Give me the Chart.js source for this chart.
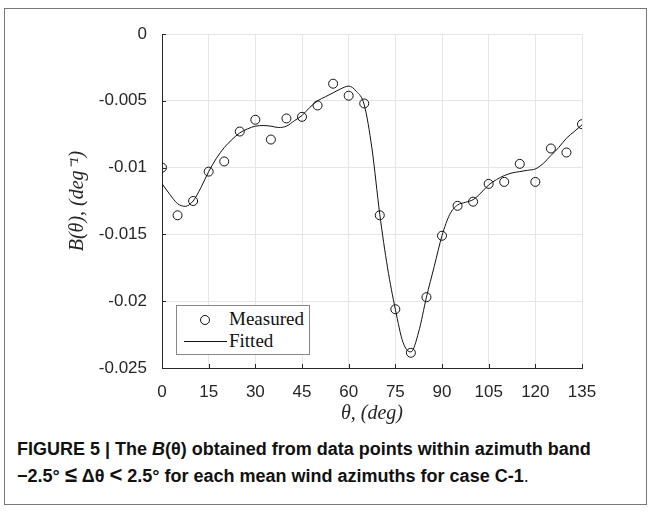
<!DOCTYPE html>
<html>
<head>
<meta charset="utf-8">
<script src="https://cdn.jsdelivr.net/npm/chart.js@4/dist/chart.umd.min.js"></script>
<style>
  html, body { margin: 0; padding: 0; background: #fff; }
  #wrap { position: relative; width: 652px; height: 512px; overflow: hidden; }
  #frame { position: absolute; left: 4px; top: 8px; width: 643px; height: 497px; border: 1px solid #777; box-sizing: border-box; }
  #chartBox { position: absolute; left: 0; top: 0; width: 652px; height: 430px; }
  #legend { position: absolute; left: 176px; top: 305px; width: 134px; height: 50px; border: 1px solid #888; background: #fff; box-sizing: border-box;
            font-family: "Liberation Serif", "DejaVu Serif", serif; font-size: 19px; color: #111; }
  #legend .row { position: absolute; left: 0; height: 22px; line-height: 22px; }
  #legend .mk { position: absolute; left: 23px; top: 7px; width: 8px; height: 8px; border: 1px solid #111; border-radius: 50%; }
  #legend .ln { position: absolute; left: 7px; top: 11px; width: 43px; border-top: 1px solid #111; }
  #legend .tx { position: absolute; left: 52px; top: 0; white-space: nowrap; }
  #caption { position: absolute; left: 17px; top: 436px; font-family: "Liberation Sans", Arial, sans-serif; font-weight: bold; font-size: 18px; line-height: 27px; color: #111; white-space: nowrap; }
  #caption .big { font-size: 22px; line-height: 18px; }
</style>
</head>
<body>
<div id="wrap">
  <div id="frame"></div>
  <div id="chartBox"><canvas id="grafico" width="652" height="430"></canvas></div>
  <div id="legend">
    <div class="row" style="top:2px;"><span class="mk"></span><span class="tx">Measured</span></div>
    <div class="row" style="top:24px;"><span class="ln"></span><span class="tx">Fitted</span></div>
  </div>
  <div id="caption">FIGURE 5 | The <i>B</i>(θ) obtained from data points within azimuth band<br>−2.5° <span class="big">≤</span> Δθ <span class="big">&lt;</span> 2.5° for each mean wind azimuths for case C-1<span style="font-weight:normal">.</span></div>
</div>
<script>
// datos medidos (cada 5 grados)
const thetaMedido = [0, 5, 10, 15, 20, 25, 30, 35, 40, 45, 50, 55, 60, 65, 70, 75, 80, 85, 90, 95, 100, 105, 110, 115, 120, 125, 130, 135];
const bMedido = [-0.0100, -0.01357, -0.0125, -0.0103, -0.00954, -0.0073, -0.00642, -0.0079, -0.00632, -0.0062, -0.00535, -0.00372, -0.00462, -0.0052,
  -0.01357, -0.0206, -0.02386, -0.0197, -0.0151, -0.01286, -0.01255, -0.01122, -0.01107, -0.00972, -0.01107, -0.00857, -0.00887, -0.00675];

// curva ajustada
const thetaAjuste = [0, 2.5, 5, 7.5, 10, 12.5, 15, 17.5, 20, 22.5, 25, 27.5, 30, 32.5, 35, 37.5, 40, 42.5, 45, 47.5, 50, 52.5, 55, 57.5, 60, 62.5, 65,
  67.5, 70, 72.5, 75, 77.5, 80, 82.5, 85, 87.5, 90, 92.5, 95, 97.5, 100, 102.5, 105, 107.5, 110, 112.5, 115, 117.5, 120, 122.5, 125, 127.5, 130, 132.5, 135];
const bAjuste = [-0.0112, -0.0120, -0.0127, -0.0129, -0.0125, -0.0115, -0.0103, -0.0093, -0.0085, -0.0079, -0.0074, -0.0071, -0.0069, -0.00685, -0.0069,
  -0.0070, -0.0069, -0.0065, -0.0061, -0.0055, -0.0050, -0.0047, -0.0044, -0.0041, -0.0039, -0.0043, -0.0053, -0.0086, -0.0135, -0.0175, -0.0206,
  -0.0231, -0.0238, -0.0223, -0.0197, -0.0174, -0.0151, -0.0135, -0.0128, -0.0126, -0.0124, -0.0119, -0.0113, -0.0109, -0.0106, -0.0104, -0.0103,
  -0.0102, -0.0101, -0.0097, -0.0091, -0.0085, -0.0078, -0.0073, -0.0068];

const xTicks = [0, 15, 30, 45, 60, 75, 90, 105, 120, 135];
const yTicks = [0, -0.005, -0.01, -0.015, -0.02, -0.025];

const medidos = thetaMedido.map((t, i) => ({ x: t, y: bMedido[i] }));
const ajuste = thetaAjuste.map((t, i) => ({ x: t, y: bAjuste[i] }));

// marcas de tick hacia dentro, estilo matlab
const ticksDentro = {
  id: 'ticksDentro',
  afterDraw(chart) {
    const { ctx, chartArea, scales } = chart;
    ctx.save();
    ctx.strokeStyle = '#262626';
    ctx.lineWidth = 1;
    ctx.beginPath();
    xTicks.forEach(v => {
      const px = Math.round(scales.x.getPixelForValue(v)) + 0.5;
      ctx.moveTo(px, chartArea.bottom);
      ctx.lineTo(px, chartArea.bottom - 4);
    });
    yTicks.forEach(v => {
      const py = Math.round(scales.y.getPixelForValue(v)) + 0.5;
      ctx.moveTo(chartArea.left, py);
      ctx.lineTo(chartArea.left + 4, py);
    });
    ctx.stroke();
    ctx.restore();
  }
};

document.addEventListener('DOMContentLoaded', () => {
  const canvas = document.getElementById('grafico');
  new Chart(canvas.getContext('2d'), {
    type: 'scatter',
    data: {
      datasets: [
        {
          label: 'Measured',
          data: medidos,
          showLine: false,
          pointStyle: 'circle',
          pointRadius: 4.5,
          pointBorderWidth: 1,
          pointBorderColor: '#111',
          pointBackgroundColor: 'rgba(0,0,0,0)',
          order: 1
        },
        {
          label: 'Fitted',
          data: ajuste,
          showLine: true,
          borderColor: '#111',
          borderWidth: 1,
          pointRadius: 0,
          cubicInterpolationMode: 'monotone',
          order: 2
        }
      ]
    },
    plugins: [ticksDentro],
    options: {
      responsive: false,
      animation: false,
      layout: { padding: { top: 34, right: 70, left: 0, bottom: 0 } },
      plugins: { legend: { display: false }, tooltip: { enabled: false } },
      scales: {
        x: {
          type: 'linear',
          min: 0, max: 135,
          afterFit: s => { s.height = 62; },
          afterBuildTicks: s => { s.ticks = xTicks.map(v => ({ value: v })); },
          grid: { color: '#e5e5e5', drawTicks: false },
          border: { color: '#262626', width: 1 },
          ticks: { color: '#262626', padding: 14, font: { family: 'Liberation Sans', size: 17 }, maxRotation: 0,
                   callback: v => String(v) },
          title: { display: true, text: 'θ, (deg)', color: '#262626', padding: { top: 0, bottom: 4 },
                   font: { family: 'Liberation Serif', size: 20, style: 'italic' } }
        },
        y: {
          type: 'linear',
          min: -0.025, max: 0,
          afterFit: s => { s.width = 162; },
          afterBuildTicks: s => { s.ticks = yTicks.map(v => ({ value: v })); },
          grid: { color: '#e5e5e5', drawTicks: false },
          border: { color: '#262626', width: 1 },
          ticks: { color: '#262626', padding: 15, font: { family: 'Liberation Sans', size: 17 },
                   callback: v => (Math.abs(v) < 1e-9 ? '0' : String(+v.toFixed(3))) },
          title: { display: true, text: 'B(θ), (deg⁻¹)', color: '#262626', padding: { top: 66, bottom: 0 },
                   font: { family: 'Liberation Serif', size: 20, style: 'italic' } }
        }
      }
    }
  });
});
</script>
</body>
</html>
